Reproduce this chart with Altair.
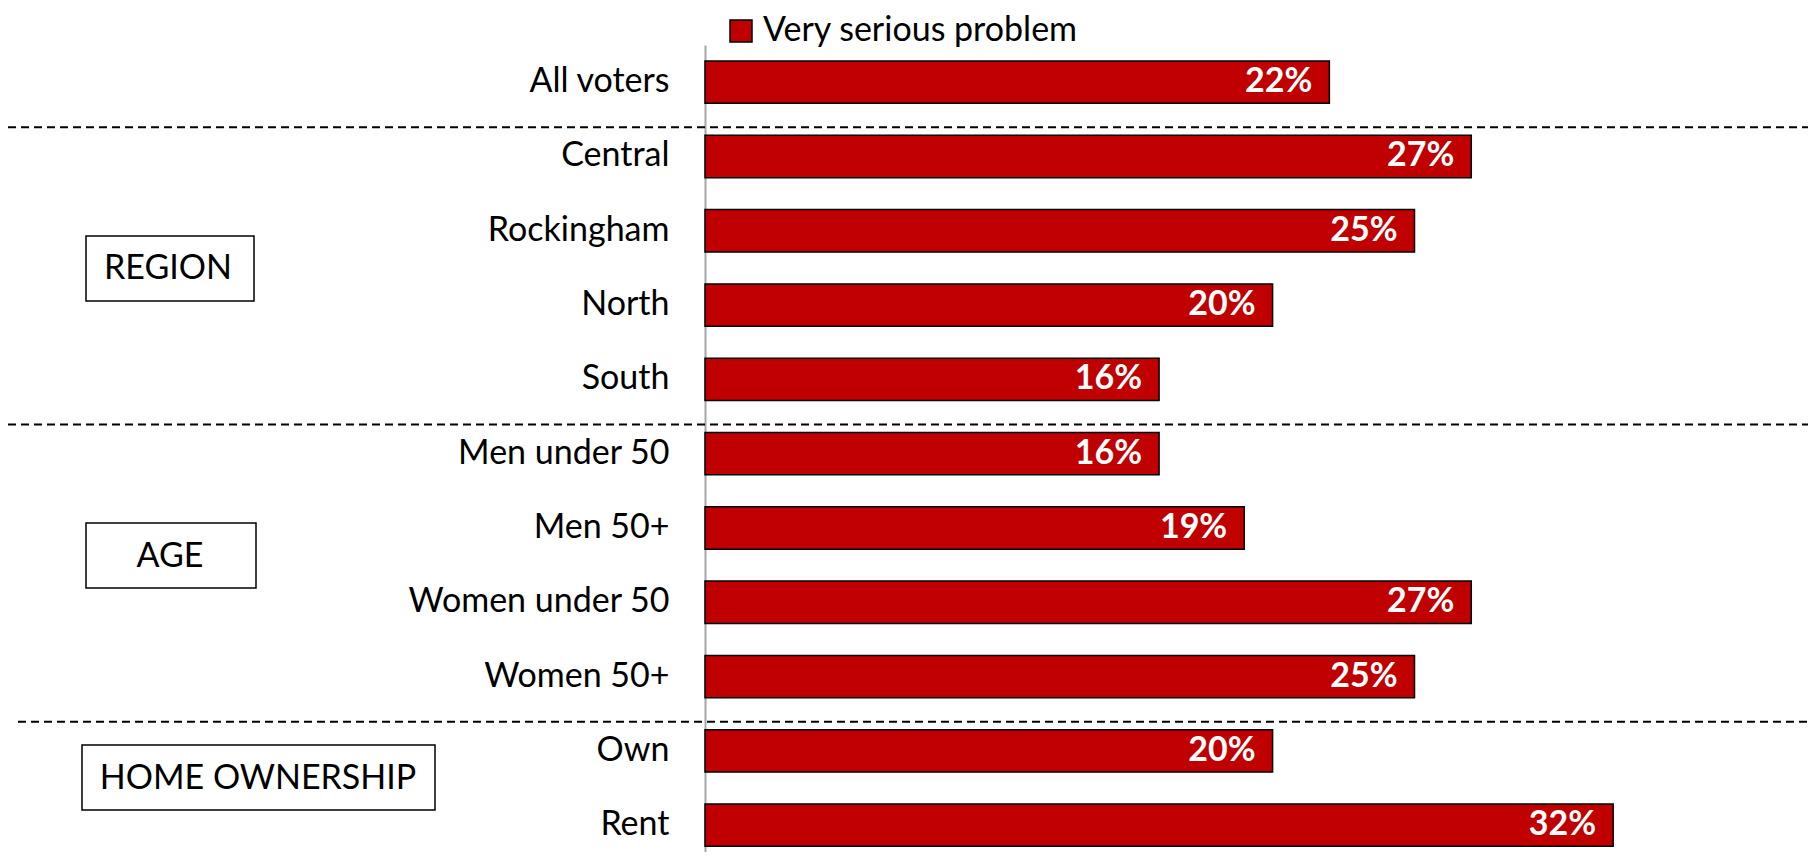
import altair as alt
import pandas as pd

categories = ["All voters", "Central", "Rockingham", "North", "South",
              "Men under 50", "Men 50+", "Women under 50", "Women 50+",
              "Own", "Rent"]
values = [22, 27, 25, 20, 16, 16, 19, 27, 25, 20, 32]
series_name = "Very serious problem"
group_names = ["REGION", "AGE", "HOME OWNERSHIP"]
separator_before = ["Central", "Men under 50", "Own"]

df = pd.DataFrame({
    "category": categories,
    "value": values,
    "series": [series_name] * len(categories),
    "label": [f"{v}%" for v in values],
})

FONT = "Lato"
FS = 34
RED = "#C00000"
W, H = 1100, 807
PX_PER_PCT = 28.38
xmax = W / PX_PER_PCT

y_scale = alt.Scale(domain=categories, paddingInner=0.43, paddingOuter=0.1456, align=0.74)
x_scale = alt.Scale(domain=[0, xmax], nice=False, zero=True)

bars = alt.Chart(df).mark_bar(stroke="black", strokeWidth=1.5).encode(
    x=alt.X("value:Q", scale=x_scale, axis=None),
    y=alt.Y("category:N", scale=y_scale,
            axis=alt.Axis(title=None, ticks=False, tickSize=0, labelPadding=36,
                          labelFontSize=FS, labelFont=FONT, labelColor="black",
                          domainColor="#a6a6a6", domainWidth=2, labelLimit=0,
                          grid=False)),
    color=alt.Color("series:N", scale=alt.Scale(domain=[series_name], range=[RED]),
                    legend=alt.Legend(title=None, orient="none", legendX=19, legendY=-31,
                                      symbolType="square", symbolSize=484,
                                      symbolStrokeColor="black", symbolStrokeWidth=1.5,
                                      labelFontSize=FS, labelFont=FONT, labelColor="black",
                                      labelOffset=5, labelLimit=0)),
)

labels = alt.Chart(df).mark_text(align="right", baseline="middle", dx=-17, color="white",
                                 fontWeight="bold", fontSize=FS, font=FONT).encode(
    x=alt.X("value:Q", scale=x_scale),
    y=alt.Y("category:N", scale=y_scale),
    text="label:N",
)

sep_main = alt.Chart(pd.DataFrame({"category": separator_before[:2]})).mark_rule(
    strokeDash=[8, 5], strokeWidth=2, color="black", yOffset=-8).encode(
    y=alt.Y("category:N", scale=y_scale, bandPosition=0),
    x=alt.value(-697), x2=alt.value(1103),
)
sep_last = alt.Chart(pd.DataFrame({"category": separator_before[2:]})).mark_rule(
    strokeDash=[8, 5], strokeWidth=2, color="black", yOffset=-8).encode(
    y=alt.Y("category:N", scale=y_scale, bandPosition=0),
    x=alt.value(-687), x2=alt.value(1103),
)

def group_box(name, x0, x1, y0, y1, tx, ty):
    d = pd.DataFrame({"g": [name]})
    rect = alt.Chart(d).mark_rect(fill="white", stroke="black", strokeWidth=1.5).encode(
        x=alt.value(x0), x2=alt.value(x1), y=alt.value(y0), y2=alt.value(y1))
    txt = alt.Chart(d).mark_text(fontSize=FS, font=FONT, color="black",
                                 align="center", baseline="middle").encode(
        x=alt.value(tx), y=alt.value(ty), text="g:N")
    return rect + txt

box_region = group_box(group_names[0], -619, -451, 191, 256, -537, 224)
box_age = group_box(group_names[1], -619, -449, 478, 543, -535, 512)
box_home = group_box(group_names[2], -623, -270, 700, 765, -447, 734)

chart = alt.layer(
    sep_main, sep_last, bars, labels, box_region, box_age, box_home
).properties(
    width=W, height=H,
    padding={"left": 697, "top": 37, "right": 3, "bottom": 0},
    autosize=alt.AutoSizeParams(type="none"),
).configure_view(stroke=None)

chart.save("out.html", embed_options={"renderer": "svg", "actions": False})
